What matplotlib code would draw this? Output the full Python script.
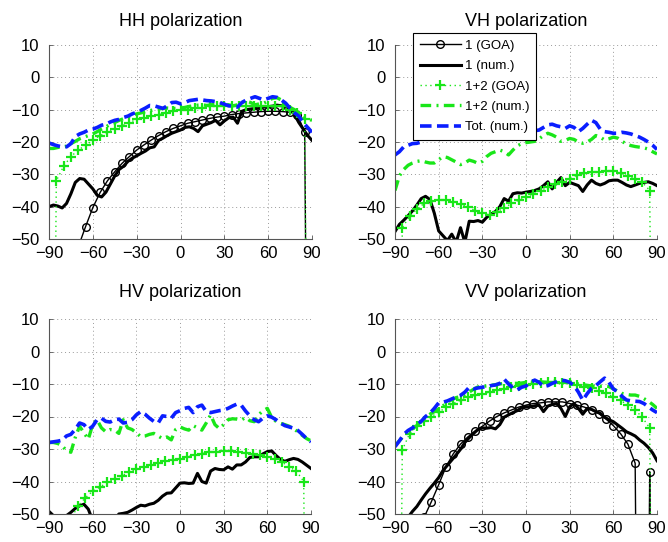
import numpy as np
import matplotlib
matplotlib.use("Agg")
import matplotlib.pyplot as plt

plt.rcParams['font.family'] = ['Liberation Sans', 'DejaVu Sans']

# scattering angle grids (deg)
ang_num = np.arange(-90, 91, 3)   # numerical curves
ang_goa = np.arange(-90, 91, 5)   # GOA curves

# -300 dB marks angles where the GOA term vanishes (no return)

# ---- HH ----
hh_goa1 = [-300, -75, -65, -57, -52.5, -46.2, -40.3, -35.6, -32, -29.2, -26.6, -24.5,
           -22.5, -20.9, -19.4, -18, -16.8, -15.8, -15, -14.2, -13.7, -13.2, -12.7, -12.3,
           -12, -11.5, -11.2, -11, -10.8, -10.6, -10.5, -10.5, -10.6, -10.8, -11.5, -17, -300]
hh_num1 = [-40, -39.5, -39.8, -40.4, -39, -36, -32.5, -31.3, -31.5, -33,
           -34.5, -36.5, -37, -35.5, -33, -30.5, -28.5, -27.5, -26, -25,
           -24.3, -23.5, -22.8, -21.8, -21.5, -19.5, -18.8, -18, -17.3, -16.8,
           -16.3, -15.5, -15.3, -15.8, -16.8, -15, -14.5, -14, -13.3, -14.7,
           -13.5, -12.5, -12.3, -14.2, -10.5, -10, -9.8, -9.6, -9.4, -9.2,
           -9.1, -8.9, -8.6, -8.8, -9.1, -9.6, -11.5, -14, -16, -18, -19.5]
hh_goa12 = [-300, -32, -27.5, -24.5, -22.5, -21, -19.5, -18, -17, -16, -15, -14, -13,
            -12.5, -12, -11.5, -11, -10.5, -10, -10, -9.5, -9.5, -9, -9, -9, -9, -9,
            -9, -9, -9, -9, -9, -9, -10, -11, -13, -300]
hh_num12 = [-22, -22, -21.7, -21.5, -21.3, -20.5, -19.8, -19, -18.5, -18,
            -17.5, -16.8, -16, -15.3, -14.5, -14, -13.3, -12.8, -12.3, -11.7,
            -11.3, -11, -10.6, -10.3, -10, -9.8, -9.6, -9.5, -9.6, -9.6,
            -9.5, -9.3, -9, -8.8, -8.6, -8.5, -8.7, -8.5, -8.3, -8.2,
            -8.3, -8.5, -8.8, -8.5, -7.8, -7.3, -7.8, -8.5, -8.2, -8,
            -7.3, -6.5, -6.3, -7, -8.3, -9.3, -10, -11, -12, -12.8, -13.3]
hh_tot = [-20.3, -20.8, -21.2, -21.5, -21.5, -20.5, -18.3, -17.5, -17, -16.3,
          -16, -15.5, -14.8, -14.5, -13.8, -13.3, -13, -12.4, -12, -11.3,
          -10.8, -10.2, -9.5, -8.7, -8.8, -9.2, -9.6, -8.8, -7.8, -7.7,
          -8.2, -7.8, -7.2, -7, -6.8, -7, -7.2, -7.3, -7.5, -7.8,
          -8.3, -8.8, -9, -9.2, -7.8, -7, -6.5, -6, -6.5, -7,
          -6.5, -6, -6.2, -7, -8, -9.6, -11, -12, -14, -15.5, -17]

# ---- VH ----
vh_num1 = [-47.7, -45.5, -44.2, -42.8, -41.3, -39.5, -37.5, -36.8, -37.8, -42,
           -47.5, -49, -50.5, -48.5, -51, -46.5, -51, -44.5, -44.6, -44.3,
           -44.8, -43.3, -42.3, -41.5, -40, -37.5, -38.3, -36, -35.7, -35.8,
           -35.5, -35.3, -35, -34.5, -33.5, -32.3, -34.5, -32.5, -31, -33.5,
           -32.5, -33, -33.5, -35.3, -33.3, -31.8, -32.8, -33.3, -32.8, -32,
           -31.8, -31.8, -32.5, -33.3, -33.8, -33.3, -32.8, -32.5, -32.3, -32.8, -33.5]
vh_goa12 = [-300, -46.5, -43, -40.8, -39, -38.3, -37.9, -37.9, -38.5, -39.2, -40, -41.2,
            -42, -42.5, -41.5, -40.5, -39, -38, -37, -36, -35, -34, -33, -32.3, -31.3,
            -30.3, -29.7, -29.4, -29.2, -29, -29.1, -29.6, -30.5, -31.5, -32.5, -35, -300]
vh_num12 = [-35, -30.5, -28.5, -27.2, -26.5, -26, -25.8, -26.2, -26.5, -26.5,
            -25.5, -24.5, -24.8, -25.5, -26.2, -27, -26.5, -25.6, -26, -26.6,
            -26, -24.5, -23.5, -23, -22.5, -23, -24, -22.5, -21.2, -20.5,
            -20.2, -20, -19.8, -19, -18, -17.3, -17.8, -18.5, -19.8, -19.5,
            -18.9, -19.2, -20, -20.4, -20, -19.2, -18, -18.5, -19.4, -19,
            -18.5, -18.8, -19.8, -20.6, -21.1, -21.4, -21.6, -21.8, -22.2, -23, -23.7]
vh_tot = [-24, -23, -21.5, -21, -20.5, -20.4, -20, -18.4, -18, -18.5,
          -18.3, -17.8, -17.5, -18, -17.5, -18, -18.5, -18, -17.5, -18,
          -19.4, -19, -18, -17.5, -17, -17.5, -17.8, -17.5, -17, -16.8,
          -16.5, -16.5, -16.5, -16.3, -15.5, -14.7, -14.5, -15, -15.3, -15.8,
          -15, -15.5, -16.8, -15.8, -14.5, -13.3, -14, -16, -16.8, -17,
          -17.3, -17.3, -17, -17.2, -17.5, -18, -18.5, -19.2, -20, -21, -22.3]

# ---- HV ----
hv_num1 = [-49.2, -50.5, -52, -51.5, -50.5, -49.5, -48.3, -47.5, -47, -48.5,
           -52, -54, -55, -55, -54, -52, -50, -49.8, -49.5, -48.8,
           -48, -47.3, -47.5, -47, -46.7, -45.8, -44.5, -43.6, -43.5, -42,
           -40.5, -40.4, -40.6, -40.5, -37.5, -40, -40.5, -36.8, -36, -36.3,
           -36.4, -35.5, -36.2, -34.9, -34.9, -34, -32.6, -32.4, -32.4, -31.5,
           -30.8, -30.6, -32, -33.2, -33.8, -33.3, -32.9, -33.2, -34, -35, -36]
hv_goa12 = [-300, -62, -56, -51.5, -47.5, -45, -43, -41.7, -40.3, -39.2, -38.2, -37.2,
            -36.2, -35.4, -34.8, -34.2, -33.7, -33.3, -33, -32.4, -31.9, -31.4, -31,
            -30.8, -30.6, -30.5, -30.8, -31.1, -31.5, -31.9, -32.5, -33, -34, -35.5,
            -36.8, -40, -300]
hv_num12 = [-28, -28, -28.3, -29, -30.5, -31, -26.5, -23, -25, -27,
            -22.5, -21, -23.5, -24.7, -24, -24.2, -25.2, -21, -23.5, -24,
            -25, -26.2, -26, -25.5, -25.2, -26, -26.8, -26.3, -27.2, -24,
            -23.2, -23.8, -24.2, -22.8, -23.5, -24.2, -22, -19.5, -22.5, -23.7,
            -22.5, -21, -20.7, -20.8, -21.1, -20.3, -21.3, -21.6, -19.5, -18.2,
            -17.5, -20.3, -21.5, -22.1, -22.5, -23, -23.8, -24.7, -25.8, -26.8, -27.5]
hv_tot = [-28, -27.8, -27.6, -27.3, -26, -25.5, -24, -22, -22.5, -24,
          -23, -21, -20.5, -21.5, -21.7, -21, -20.8, -22, -21.8, -21,
          -19.5, -18.5, -19.3, -20.5, -21.5, -22, -19.8, -20, -20.5, -18.8,
          -18.2, -17.5, -17.2, -18.8, -17, -16.5, -18.5, -18.8, -18.5, -18.2,
          -18, -17.5, -16.8, -16.2, -16.5, -18.3, -19.8, -21, -21.6, -20.5,
          -19.8, -20.2, -21, -22, -22.8, -23.2, -23.6, -24.3, -25.5, -26.8, -27.8]

# ---- VV ----
vv_goa1 = [-300, -80, -65, -57, -51, -46.2, -41, -35.5, -31.5, -28.5, -26.3, -24.5,
           -23, -21.4, -20, -18.9, -18, -17.1, -16.5, -16, -15.8, -15.5, -15.5, -15.5,
           -16, -16.5, -17.1, -18, -19.1, -20.8, -22.8, -25.3, -28.5, -34.4, -300, -37, -300]
vv_num1 = [-56, -55, -53, -51, -49.2, -47.7, -45.7, -43.8, -42.1, -40.5,
           -38.8, -36.6, -35, -33.4, -31.8, -30.1, -28, -26.5, -25.2, -24,
           -23.5, -23.6, -23.4, -23.8, -22.5, -20.2, -19.5, -18.8, -18.2, -17.3,
           -17, -17, -16.7, -16.5, -18.5, -16.8, -16.3, -16, -17.5, -20,
           -17, -16, -17.5, -19.3, -17.5, -17.8, -18.5, -19, -20.2, -21,
           -21.6, -22.6, -23.6, -24.7, -25.3, -26, -27.2, -28.2, -29.5, -31.2, -33.6]
vv_goa12 = [-300, -30.3, -25.3, -23, -21.4, -20, -18.7, -17.2, -16, -15, -14.1, -13.5,
            -13, -12.5, -11.9, -11.4, -11, -10.5, -10.2, -10, -9.6, -9.5, -9.5, -9.6,
            -9.8, -10.2, -10.8, -11.3, -12.2, -12.9, -13.9, -15, -16.6, -18, -20.3,
            -23.6, -300]
vv_num12 = [-29, -27.5, -26, -24.8, -23.8, -22.8, -21.2, -20.2, -19.3, -18.5,
            -17.6, -16.7, -15.6, -14.8, -14.2, -13.8, -13.2, -12.5, -11.6, -10.9,
            -10.7, -10.6, -10.4, -10.2, -10, -9.8, -9.7, -9.8, -9.8, -9.7,
            -9.5, -9.4, -9.5, -9.3, -9.4, -9.5, -9.2, -9, -9.2, -9.4,
            -9.3, -9.6, -10, -10.2, -10.4, -10.6, -10.8, -10.7, -10.6, -10.8,
            -11.5, -12.2, -12.9, -13.2, -13.4, -13.4, -13.8, -14.5, -15.3, -16.3, -17.5]
vv_tot = [-29.3, -27.5, -25.5, -24.3, -23.5, -22.5, -21.5, -20, -19, -17.5,
          -15.8, -15.6, -15.2, -14.6, -14, -13.5, -12.5, -11, -11.5, -11.2,
          -11, -10.8, -10.5, -10.3, -9.8, -8.5, -10, -11.2, -11.8, -11,
          -10.6, -9.5, -8.8, -9.5, -10.8, -10.5, -9.8, -9.3, -8.8, -9,
          -9.5, -10.5, -12.5, -15, -13, -11.3, -10.5, -9.3, -8.2, -9.5,
          -11.5, -12.5, -13.8, -14.9, -15.2, -15.3, -15.4, -16, -17, -18, -18.8]

panels = [
    ("HH polarization", hh_goa1, hh_num1, hh_goa12, hh_num12, hh_tot),
    ("VH polarization", None, vh_num1, vh_goa12, vh_num12, vh_tot),
    ("HV polarization", None, hv_num1, hv_goa12, hv_num12, hv_tot),
    ("VV polarization", vv_goa1, vv_num1, vv_goa12, vv_num12, vv_tot),
]

GREEN = '#19e619'
BLUE = '#0a1eff'

fig = plt.figure(figsize=(6.68, 5.42), dpi=100)
W, H = 668.0, 542.0
boxes = [(49, 45, 263, 194), (395, 45, 262, 194),
         (49, 319, 262, 195), (395, 319, 262, 195)]

axes = []
for (title, g1, n1, g12, n12, tot), (x0, y0, w, h) in zip(panels, boxes):
    ax = fig.add_axes([x0 / W, 1 - (y0 + h) / H, w / W, h / H])
    axes.append(ax)
    if g1 is not None:
        ax.plot(ang_goa, g1, color='k', lw=1.0, marker='o', ms=5.5, mfc='none',
                mew=1.0, label='1 (GOA)')
    ax.plot(ang_num, n1, color='k', lw=2.2, label='1 (num.)')
    ax.plot(ang_goa, g12, color=GREEN, lw=1.0, ls=(0, (1, 2.5)), marker='+',
            ms=7, mew=1.6, label='1+2 (GOA)')
    ax.plot(ang_num, n12, color=GREEN, lw=2.4, ls=(0, (3.2, 1.6, 0.6, 1.6)),
            label='1+2 (num.)')
    ax.plot(ang_num, tot, color=BLUE, lw=2.6, ls=(0, (3.2, 1.5)), label='Tot. (num.)')

    ax.set_xlim(-90, 90)
    ax.set_ylim(-50, 10)
    ax.set_xticks(np.arange(-90, 91, 30))
    ax.set_yticks(np.arange(-50, 11, 10))
    ax.grid(True, ls=(0, (1, 3)), color='#999999', lw=0.7)
    for s in ('top', 'right'):
        ax.spines[s].set_visible(False)
    for s in ('left', 'bottom'):
        ax.spines[s].set_color('#555555')
        ax.spines[s].set_linewidth(0.8)
    ax.tick_params(direction='in', length=3, width=0.6, labelsize=12, colors='#555555',
                   labelcolor='k')
    ax.tick_params(axis='y', pad=7)
    ax.tick_params(axis='x', pad=5)
    ax.set_title(title, fontsize=13, pad=13.5 if y0 < 100 else 16)

# legend sits in the VH panel, using the HH curves (which include 1 (GOA))
leg = axes[1].legend(handles=axes[0].get_lines(), loc='upper left',
                     bbox_to_anchor=(0.069, 1.062), borderaxespad=0,
                     fontsize=9.5, handlelength=3.1, labelspacing=0.62,
                     handletextpad=0.3, borderpad=0.5, fancybox=False,
                     framealpha=1, edgecolor='k')
leg.get_frame().set_linewidth(0.8)

fig.savefig('out.png', dpi=100)
